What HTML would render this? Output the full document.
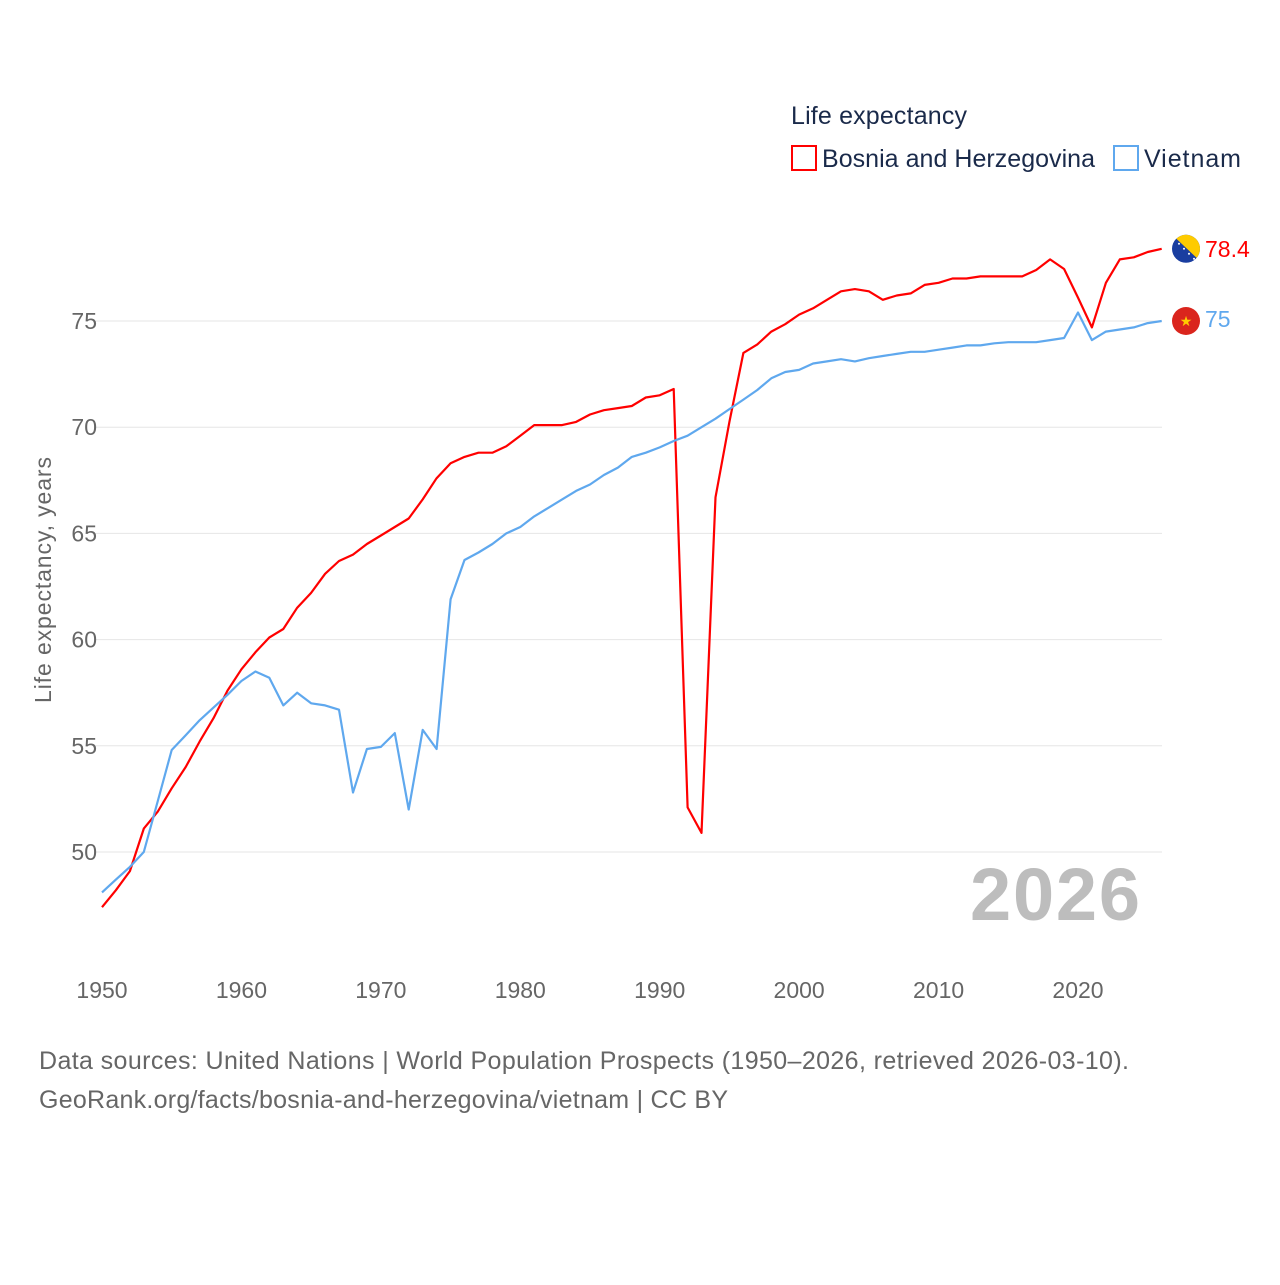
<!DOCTYPE html>
<html><head><meta charset="utf-8">
<style>
html,body{margin:0;padding:0;background:#fff;}
body{width:1280px;height:1280px;overflow:hidden;font-family:"Liberation Sans",sans-serif;}
svg text{font-family:"Liberation Sans",sans-serif;}
</style></head>
<body>
<svg id="chart" width="1280" height="1280" viewBox="0 0 1280 1280" xmlns="http://www.w3.org/2000/svg">
  <text x="791" y="124" font-size="25" fill="#1a2a4a" textLength="176">Life expectancy</text>
  <rect x="792" y="146" width="24" height="24" fill="none" stroke="#ff0000" stroke-width="2"/>
  <text x="822" y="167" font-size="25" fill="#1a2a4a" textLength="273">Bosnia and Herzegovina</text>
  <rect x="1114" y="146" width="24" height="24" fill="none" stroke="#5fa8ee" stroke-width="2"/>
  <text x="1144" y="167" font-size="25" fill="#1a2a4a" textLength="97">Vietnam</text>
  <text transform="translate(51,580) rotate(-90)" text-anchor="middle" font-size="23" fill="#666" textLength="246">Life expectancy, years</text>
  <g id="grid"></g>
  <text x="1140" y="920" text-anchor="end" font-size="74" font-weight="bold" fill="#bdbdbd" textLength="170">2026</text>
  <g id="series"></g>
  <text x="39" y="1069" font-size="25" fill="#666" textLength="1090">Data sources: United Nations | World Population Prospects (1950–2026, retrieved 2026-03-10).</text>
  <text x="39" y="1108" font-size="25" fill="#666" textLength="689">GeoRank.org/facts/bosnia-and-herzegovina/vietnam | CC BY</text>
</svg>
<script>
const startYear = 1950;
const bosnia = [47.4,48.2,49.1,51.1,51.9,53.0,54.0,55.2,56.3,57.6,58.6,59.4,60.1,60.5,61.5,62.2,63.1,63.7,64.0,64.5,64.9,65.3,65.7,66.6,67.6,68.3,68.6,68.8,68.8,69.1,69.6,70.1,70.1,70.1,70.25,70.6,70.8,70.9,71.0,71.4,71.5,71.8,52.1,50.9,66.7,70.25,73.5,73.9,74.5,74.85,75.3,75.6,76.0,76.4,76.5,76.4,76.0,76.2,76.3,76.7,76.8,77.0,77.0,77.1,77.1,77.1,77.1,77.4,77.9,77.45,76.1,74.7,76.8,77.9,78.0,78.25,78.4];
const vietnam = [48.1,48.7,49.3,50.0,52.4,54.8,55.5,56.2,56.8,57.4,58.05,58.5,58.2,56.9,57.5,57.0,56.9,56.7,52.8,54.85,54.95,55.6,52.0,55.75,54.85,61.9,63.75,64.1,64.5,65.0,65.3,65.8,66.2,66.6,67.0,67.3,67.75,68.1,68.6,68.8,69.05,69.35,69.6,70.0,70.4,70.85,71.3,71.75,72.3,72.6,72.7,73.0,73.1,73.2,73.1,73.25,73.35,73.45,73.55,73.55,73.65,73.75,73.85,73.85,73.95,74.0,74.0,74.0,74.1,74.2,75.4,74.1,74.5,74.6,74.7,74.9,75.0];
const yTicks = [50,55,60,65,70,75];
const xTicks = [1950,1960,1970,1980,1990,2000,2010,2020];
const endLabels = ["78.4","75"];

const NS = "http://www.w3.org/2000/svg";
const x = yr => 102 + (yr - 1950) * (976 / 70);
const y = v => 852 - (v - 50) * (531 / 25);
const grid = document.getElementById('grid');
const series = document.getElementById('series');
function mk(tag, attrs, parent){const e=document.createElementNS(NS,tag);for(const k in attrs)e.setAttribute(k,attrs[k]);parent.appendChild(e);return e;}

yTicks.forEach(t=>{
  const l=mk('line',{x1:95,x2:1162,y1:y(t),y2:y(t),stroke:'#e6e6e6','stroke-width':1},grid);
  
  
  const tx=mk('text',{x:97,y:y(t)+8,'text-anchor':'end','font-size':23,fill:'#666'},grid);
  tx.textContent=t;
  
  
});
xTicks.forEach(t=>{
  const tx=mk('text',{x:x(t),y:998,'text-anchor':'middle','font-size':23,fill:'#666'},grid);
  tx.textContent=t;
  
  
});
function line(data,color,name){
  const d=data.map((v,i)=>(i?'L':'M')+x(startYear+i).toFixed(1)+','+y(v).toFixed(1)).join('');
  const p=mk('path',{d:d,fill:'none',stroke:color,'stroke-width':2.2,'stroke-linejoin':'round'},series);
  
  
}
line(bosnia,'#ff0000','bosnia-line');
line(vietnam,'#5fa8ee','vietnam-line');

const lb=bosnia[bosnia.length-1], lv=vietnam[vietnam.length-1];
const fb=mk('g',{},series);


const cyB=y(lb);
mk('clipPath',{id:'cb'},fb).appendChild(document.createElementNS(NS,'circle'));
const cbc=fb.querySelector('#cb circle');cbc.setAttribute('cx',1186);cbc.setAttribute('cy',cyB);cbc.setAttribute('r',14);
const gB=mk('g',{'clip-path':'url(#cb)'},fb);
mk('rect',{x:1170,y:cyB-16,width:32,height:32,fill:'#1a3ea0'},gB);
mk('polygon',{points:`1170,${cyB-16} 1204,${cyB-16} 1204,${cyB+16}`,fill:'#fecb00'},gB);
for(let i=0;i<5;i++)mk('circle',{cx:1174+i*5,cy:cyB-10+i*5,r:1,fill:'#fff'},gB);
const tb=mk('text',{x:1205,y:cyB+8,'font-size':23,fill:'#ff0000'},series);
tb.textContent=endLabels[0];


const cyV=y(lv);
const fv=mk('g',{},series);


mk('circle',{cx:1186,cy:cyV,r:14,fill:'#da251d'},fv);
mk('text',{x:1186,y:cyV+5,'text-anchor':'middle','font-size':14,fill:'#ffcd00'},fv).textContent='★';
const tv=mk('text',{x:1205,y:cyV+6,'font-size':23,fill:'#5fa8ee'},series);
tv.textContent=endLabels[1];


</script>
</body></html>
